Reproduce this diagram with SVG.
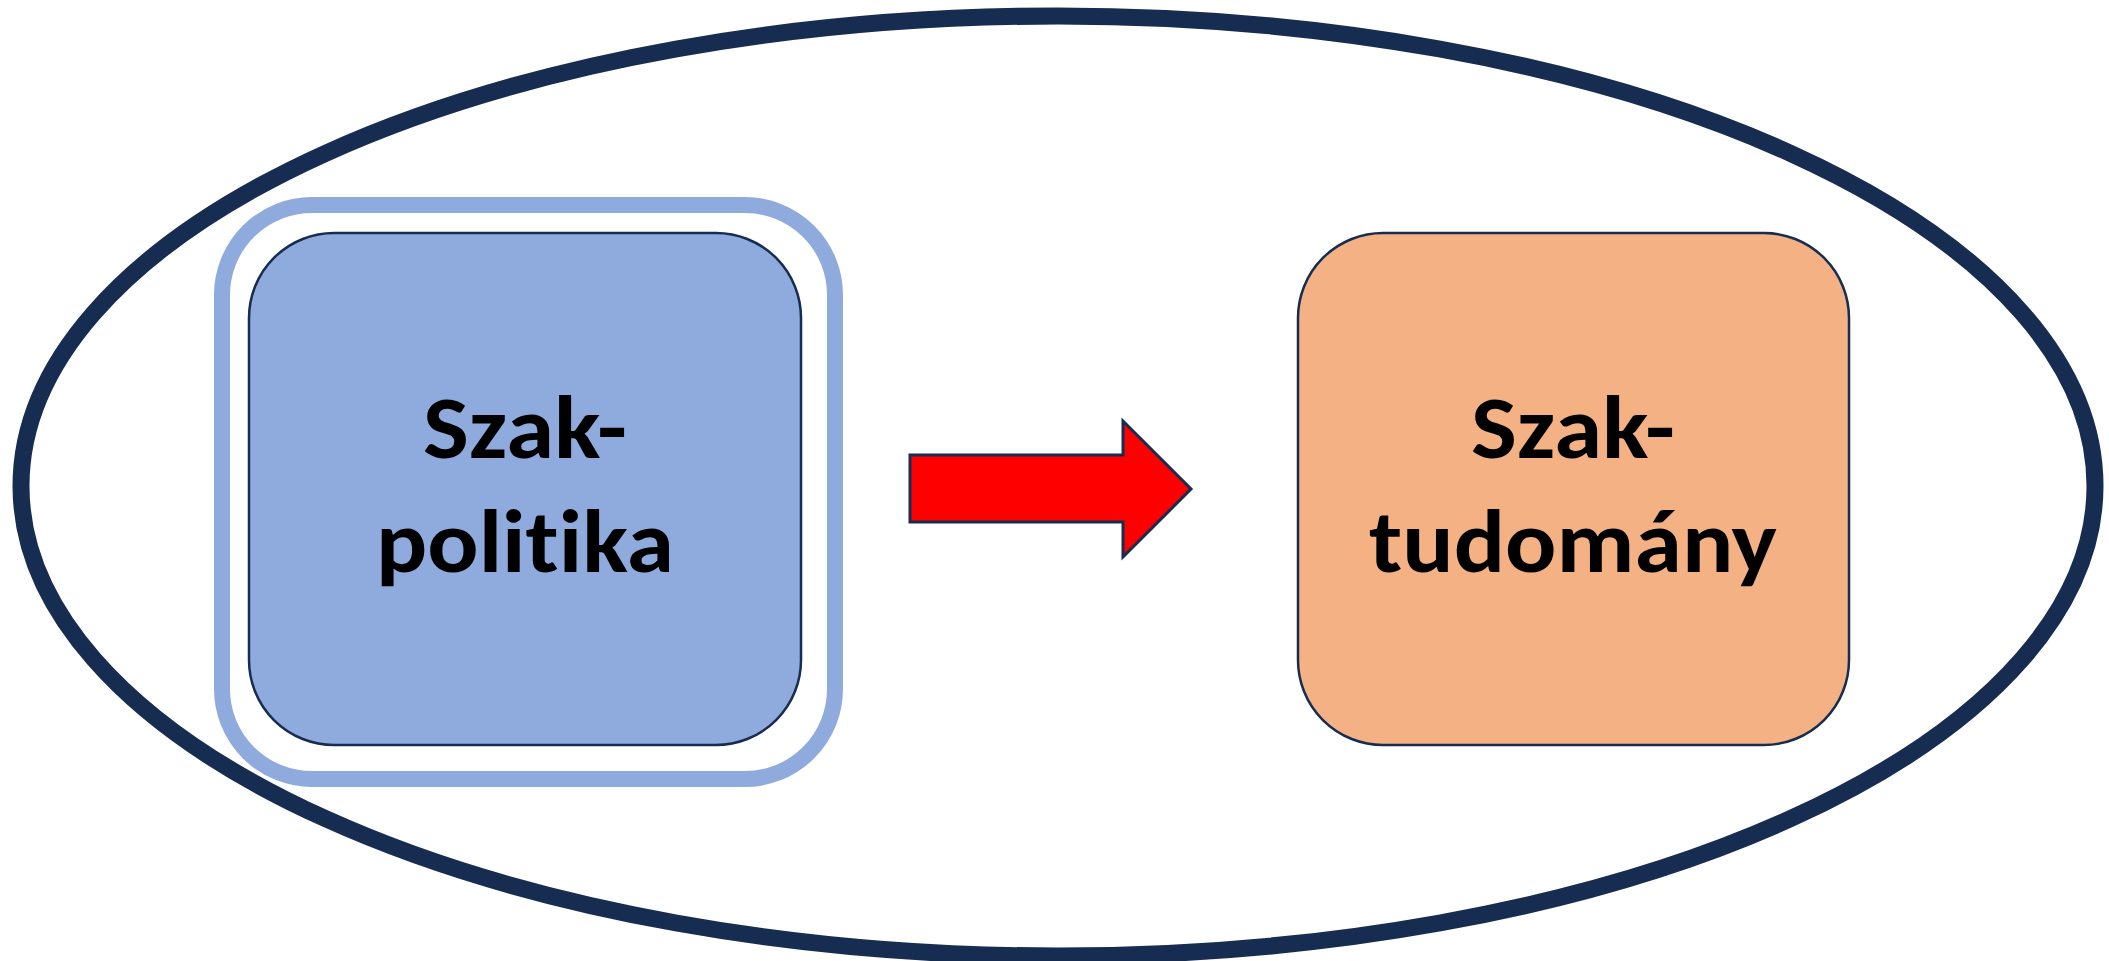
<svg xmlns="http://www.w3.org/2000/svg" width="2109" height="961" viewBox="0 0 2109 961">
  <style>
    .lbl { font-family: Carlito, Calibri, Lato, "Open Sans", sans-serif; font-weight: 700; font-size: 90px; fill: #000000; text-anchor: middle; font-variant-ligatures: none; font-feature-settings: "liga" 0, "clig" 0, "dlig" 0; }
    .box { stroke: #172C51; stroke-width: 2.5; }
  </style>
  <rect x="0" y="0" width="2109" height="961" fill="#FFFFFF"/>
  <g id="frame">
    <ellipse cx="1058" cy="486" rx="1037" ry="470" fill="none" stroke="#172C51" stroke-width="17"/>
  </g>
  <g id="node-szakpolitika">
    <rect x="222" y="205" width="613" height="574" rx="90" ry="90" fill="none" stroke="#8FAADC" stroke-width="16"/>
    <rect class="box" x="249" y="233" width="552" height="512" rx="85" ry="85" fill="#8FAADC"/>
    <text class="lbl" x="525" y="458" textLength="204" lengthAdjust="spacingAndGlyphs">Szak-</text>
    <text class="lbl" x="525" y="572" textLength="298" lengthAdjust="spacingAndGlyphs">politika</text>
  </g>
  <g id="node-szaktudomany">
    <rect class="box" x="1298" y="233" width="551" height="512" rx="85" ry="85" fill="#F4B183"/>
    <text class="lbl" x="1573" y="458" textLength="204" lengthAdjust="spacingAndGlyphs">Szak-</text>
    <text class="lbl" x="1573" y="572" textLength="408" lengthAdjust="spacingAndGlyphs">tudomány</text>
  </g>
  <g id="connectors">
    <polygon points="910,455 1123,455 1123,421 1191,489 1123,557 1123,522 910,522" fill="#FF0000" stroke="#172C51" stroke-width="3" stroke-linejoin="miter"/>
  </g>
</svg>
